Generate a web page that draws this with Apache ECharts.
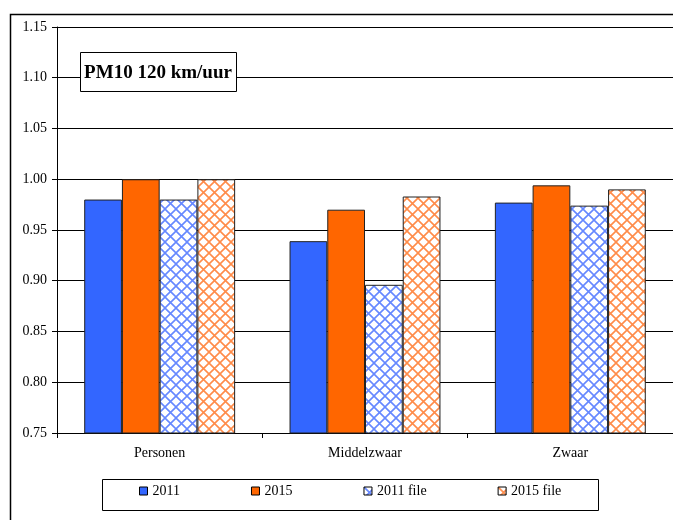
<!DOCTYPE html>
<html><head><meta charset="utf-8">
<script src="https://cdn.jsdelivr.net/npm/echarts@6/dist/echarts.min.js"></script>
<style>html,body{margin:0;padding:0;background:#fff}#c{width:673px;height:520px}</style>
</head><body><div id="c"></div>
<script>
const categories = ['Personen', 'Middelzwaar', 'Zwaar'];
const seriesNames = ['2011', '2015', '2011 file', '2015 file'];
const v2011 = [0.980, 0.939, 0.977];
const v2015 = [1.000, 0.970, 0.994];
const v2011file = [0.980, 0.896, 0.974];
const v2015file = [1.000, 0.983, 0.990];
const yTicks = [0.75, 0.80, 0.85, 0.90, 0.95, 1.00, 1.05, 1.10, 1.15];
const titleText = 'PM10 120 km/uur';

function hatch(col) {
  const s = 11;
  const c = document.createElement('canvas');
  c.width = s; c.height = s;
  const g = c.getContext('2d');
  g.fillStyle = '#fff'; g.fillRect(0, 0, s, s);
  g.strokeStyle = col; g.lineWidth = 1.6;
  g.beginPath();
  g.moveTo(0, 0); g.lineTo(s, s);
  g.moveTo(s, 0); g.lineTo(0, s);
  g.stroke();
  return { image: c, repeat: 'repeat' };
}
const font = 'Liberation Serif';
const chart = echarts.init(document.getElementById('c'), null, { renderer: 'canvas' });
const colors = ['#3366FF', '#FF6600', hatch('#6688ff'), hatch('#ff8c4a')];
const vals = [v2011, v2015, v2011file, v2015file];
chart.setOption({
  animation: false,
  backgroundColor: '#fff',
  grid: { left: 57, top: 27, right: -5, bottom: 87, containLabel: false },
  legend: {
    data: seriesNames, left: 134, top: 479, itemWidth: 8, itemHeight: 8, itemGap: 71,
    icon: 'rect', textStyle: { fontFamily: font, fontSize: 14, color: '#000' },
    itemStyle: { borderColor: '#000', borderWidth: 1 }
  },
  xAxis: {
    type: 'category', data: categories,
    axisLine: { lineStyle: { color: '#000', width: 1 } },
    axisTick: { show: true, length: 5, lineStyle: { color: '#000' } },
    axisLabel: { fontFamily: font, fontSize: 14, color: '#000', margin: 13 }
  },
  yAxis: {
    type: 'value', min: yTicks[0], max: yTicks[yTicks.length - 1], interval: 0.05,
    axisLine: { show: true, lineStyle: { color: '#000', width: 1 } },
    axisTick: { show: true, length: 5, lineStyle: { color: '#000' } },
    splitLine: { lineStyle: { color: '#000', width: 1 } },
    axisLabel: { fontFamily: font, fontSize: 14, color: '#000', margin: 10, formatter: v => v.toFixed(2) }
  },
  series: seriesNames.map((n, i) => ({
    name: n, type: 'bar', data: vals[i], barGap: '0%', barCategoryGap: '26.5%',
    itemStyle: { color: colors[i], borderColor: '#222', borderWidth: 1 }
  })),
  graphic: [
    { type: 'rect', shape: { x: 10.5, y: 14.5, width: 700, height: 540 }, style: { fill: 'none', stroke: '#000', lineWidth: 1.5 }, z: 100, silent: true },
    { type: 'rect', shape: { x: 102.5, y: 479.5, width: 496, height: 31 }, style: { fill: 'none', stroke: '#000', lineWidth: 1 }, z: 100 },
    { type: 'rect', shape: { x: 80.5, y: 52.5, width: 156, height: 39 }, style: { fill: '#fff', stroke: '#000', lineWidth: 1 }, z: 100 },
    { type: 'text', x: 158, y: 73, z: 101, style: { text: titleText, font: 'bold 19px "Liberation Serif"', fill: '#000', align: 'center', verticalAlign: 'middle' } }
  ]
});
</script></body></html>
